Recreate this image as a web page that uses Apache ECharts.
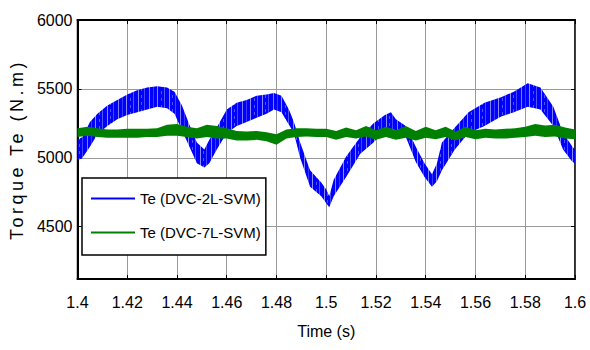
<!DOCTYPE html>
<html><head><meta charset="utf-8">
<script src="https://cdn.jsdelivr.net/npm/echarts@6/dist/echarts.min.js"></script>
<style>html,body{margin:0;padding:0;background:#fff}#c{width:590px;height:350px}</style>
</head><body><div id="c"></div>
<script>
// ---- data ----
const seriesNames = ['Te (DVC-2L-SVM)', 'Te (DVC-7L-SVM)'];
const yTickValues = [4500, 5000, 5500, 6000];
const xMin = 1.4, xMax = 1.6, xStep = 0.02;
const yMin = 4120, yMax = 6000;

// DVC-2L-SVM: time, lower and upper envelope of the ripple band
const blueTime = [1.400,1.402,1.405,1.408,1.412,1.416,1.420,1.424,1.428,1.432,1.436,1.439,1.442,1.445,1.448,1.451,1.453,1.456,1.460,1.464,1.468,1.472,1.476,1.479,1.482,1.485,1.487,1.4895,1.4935,1.498,1.500,1.5012,1.503,1.508,1.5137,1.519,1.5236,1.526,1.528,1.532,1.536,1.5395,1.5425,1.5445,1.5465,1.5517,1.5572,1.5636,1.5703,1.5754,1.581,1.5861,1.5913,1.5952,1.599,1.600];
const blueLow  = [4980,5000,5080,5170,5230,5280,5310,5330,5350,5370,5360,5320,5200,5080,4960,4930,4960,5060,5180,5230,5260,5290,5320,5350,5330,5240,5180,5000,4790,4720,4670,4640,4720,4860,5030,5110,5200,5210,5200,5150,4970,4860,4790,4830,4910,5060,5180,5230,5300,5330,5370,5350,5230,5060,4970,4960];
const blueHigh = [5130,5150,5260,5320,5380,5420,5460,5490,5510,5520,5510,5480,5380,5240,5110,5060,5130,5220,5350,5400,5420,5450,5460,5470,5450,5350,5260,5110,4910,4820,4770,4720,4840,5010,5150,5250,5310,5330,5280,5230,5080,4960,4880,4960,5110,5220,5330,5400,5440,5480,5540,5510,5370,5180,5080,5060];

// DVC-7L-SVM
const greenTime = [1.400,1.404,1.408,1.412,1.416,1.420,1.424,1.428,1.432,1.436,1.440,1.444,1.448,1.452,1.456,1.460,1.464,1.468,1.472,1.476,1.480,1.484,1.488,1.492,1.496,1.500,1.504,1.508,1.512,1.516,1.520,1.524,1.528,1.532,1.536,1.540,1.544,1.548,1.552,1.556,1.560,1.564,1.568,1.572,1.576,1.580,1.584,1.588,1.592,1.596,1.600];
const greenLow  = [5150,5160,5150,5145,5145,5145,5145,5150,5150,5160,5160,5150,5140,5150,5140,5140,5125,5125,5130,5120,5095,5140,5150,5155,5150,5150,5130,5150,5140,5155,5130,5150,5130,5145,5125,5145,5135,5150,5125,5150,5135,5145,5140,5140,5145,5150,5160,5150,5155,5140,5135];
const greenHigh = [5215,5225,5215,5205,5205,5210,5210,5210,5215,5240,5245,5225,5215,5240,5230,5215,5195,5190,5195,5185,5170,5205,5215,5215,5210,5210,5195,5220,5200,5230,5200,5225,5200,5230,5195,5225,5200,5225,5190,5225,5200,5210,5205,5210,5215,5225,5245,5235,5240,5220,5205];

const blueColor = '#0000ff', greenColor = '#008000';
const sans = "'Liberation Sans',Arial,sans-serif";

function rows(t, lo, hi) { return t.map((v, i) => [v, lo[i], hi[i]]); }

// irregular striped fill to mimic the fast switching ripple (style only)
function stripeFill(color, gapColor) {
  const w = 31, h = 7;
  const cv = document.createElement('canvas');
  cv.width = w; cv.height = h;
  const ctx = cv.getContext('2d');
  ctx.fillStyle = color; ctx.fillRect(0, 0, w, h);
  ctx.fillStyle = gapColor;
  [[2, 1], [9, 0.6], [14, 1], [20, 0.5], [25, 0.9], [29, 0.4]].forEach(function (g) {
    ctx.globalAlpha = g[1];
    ctx.fillRect(g[0], 0, 1, h);
  });
  ctx.globalAlpha = 0.6;
  ctx.fillRect(6, 0, 1, 3);
  ctx.fillRect(17, 4, 1, 3);
  return { image: cv, repeat: 'repeat' };
}

function bandItem(fill) {
  return function (params, api) {
    if (params.dataIndexInside !== 0) return null;
    const n = params.dataInsideLength;
    const top = [], bottom = [];
    for (let j = 0; j < n; j++) {
      top.push(api.coord([api.value(0, j), api.value(2, j)]));
      bottom.push(api.coord([api.value(0, j), api.value(1, j)]));
    }
    return {
      type: 'polygon',
      shape: { points: top.concat(bottom.reverse()) },
      style: { fill: fill }
    };
  };
}

const chart = echarts.init(document.getElementById('c'), null, { renderer: 'svg' });
const xLabelFmt = v => String(+(+v).toFixed(2));
chart.setOption({
  animation: false,
  backgroundColor: '#fff',
  grid: { left: 70, right: 15, top: 20, bottom: 71, show: true, borderColor: '#111', borderWidth: 1.5, backgroundColor: 'transparent' },
  legend: {
    left: 82, top: 178, orient: 'vertical',
    backgroundColor: '#fff', borderColor: '#000', borderWidth: 1.5, borderRadius: 0,
    padding: [13, 5, 15, 9], itemGap: 19, itemWidth: 44, itemHeight: 2,
    textStyle: { fontFamily: sans, fontSize: 15, color: '#000' },
    data: [
      { name: seriesNames[0], icon: 'rect', itemStyle: { color: blueColor } },
      { name: seriesNames[1], icon: 'rect', itemStyle: { color: greenColor } }
    ]
  },
  xAxis: [{
    type: 'value', position: 'bottom', min: xMin, max: xMax, interval: xStep,
    name: 'Time (s)', nameLocation: 'middle', nameGap: 44,
    nameTextStyle: { fontFamily: sans, fontSize: 16, color: '#000' },
    axisLine: { show: true, lineStyle: { color: '#000', width: 2 } },
    axisTick: { show: true, inside: true, length: 4, lineStyle: { color: '#000' } },
    axisLabel: { margin: 15, fontFamily: sans, fontSize: 16, color: '#000', formatter: xLabelFmt },
    splitLine: { show: true, lineStyle: { color: '#9a9a9a', width: 1 } }
  }, {
    type: 'value', position: 'top', min: xMin, max: xMax, interval: xStep,
    axisLine: { show: true, lineStyle: { color: '#000', width: 2 } },
    axisTick: { show: true, inside: true, length: 4, lineStyle: { color: '#000' } },
    axisLabel: { show: false }, splitLine: { show: false }
  }],
  yAxis: [{
    type: 'value', position: 'left', min: yMin, max: yMax,
    name: 'Torque Te (N.m)', nameLocation: 'middle', nameGap: 41,
    nameTextStyle: { fontFamily: sans, fontSize: 18, color: '#000' },
    axisLine: { show: true, lineStyle: { color: '#000', width: 2 } },
    axisTick: { show: true, inside: true, length: 4, customValues: yTickValues, lineStyle: { color: '#000' } },
    axisLabel: { margin: 5, fontFamily: sans, fontSize: 16, color: '#000', customValues: yTickValues, formatter: v => String(v) },
    splitLine: { show: true, lineStyle: { color: '#9a9a9a', width: 1 } }
  }, {
    type: 'value', position: 'right', min: yMin, max: yMax,
    axisLine: { show: true, lineStyle: { color: '#222', width: 1.5 } },
    axisTick: { show: true, inside: true, length: 4, customValues: yTickValues, lineStyle: { color: '#000' } },
    axisLabel: { show: false }, splitLine: { show: false }
  }],
  series: [{
    name: seriesNames[0], type: 'custom', clip: true, z: 2,
    itemStyle: { color: blueColor },
    encode: { x: 0, y: [1, 2] },
    renderItem: bandItem(stripeFill(blueColor, '#8c8cff')),
    data: rows(blueTime, blueLow, blueHigh)
  }, {
    name: seriesNames[1], type: 'custom', clip: true, z: 3,
    itemStyle: { color: greenColor },
    encode: { x: 0, y: [1, 2] },
    renderItem: bandItem(greenColor),
    data: rows(greenTime, greenLow, greenHigh)
  }]
});

// widen the letter spacing of the vertical axis title, as in the reference
document.querySelectorAll('#c svg text').forEach(function (el) {
  if (el.textContent === 'Torque Te (N.m)') el.setAttribute('letter-spacing', '3.5');
});
</script>
</body></html>
